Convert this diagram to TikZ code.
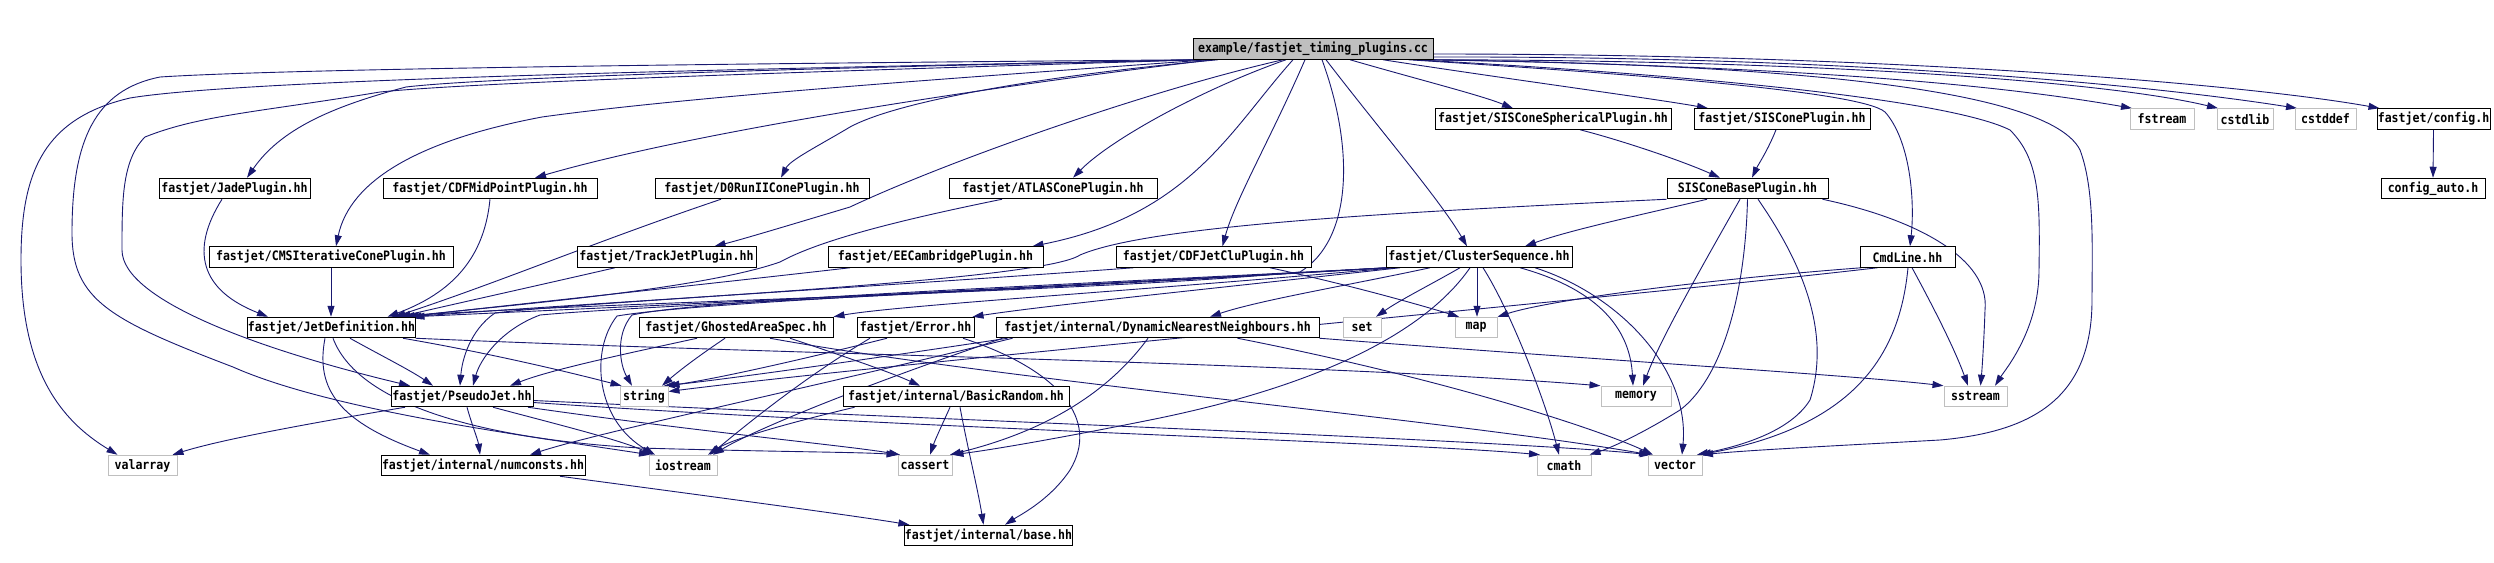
\documentclass[tikz,border=0pt]{standalone}
\usepackage{fontspec}
\newfontfamily\nodefont[FakeStretch=0.89]{DejaVu Sans Mono Bold}
\usetikzlibrary{arrows.meta,calc,backgrounds}
\definecolor{edgec}{RGB}{25,25,112}
\definecolor{graybd}{RGB}{191,191,191}
\tikzset{
  box/.style={draw=black, fill=white, line width=1pt, minimum height=20.5pt, inner sep=0pt, font={\nodefont\fontsize{13pt}{13pt}\selectfont}},
  sysbox/.style={box, draw=graybd},
  topbox/.style={box, fill=graybd},
  dep/.style={draw=edgec, line width=0.9pt, -{Triangle[length=11pt,width=7pt]}},
}
\begin{document}
\begin{tikzpicture}[x=1pt,y=-1pt]
\useasboundingbox (0,0) rectangle (2494,562);
% nodes
\node[topbox, minimum width=240pt] (T) at (1313,49) {example/fastjet\_timing\_plugins.cc};
\node[box, minimum width=236pt] (sphr) at (1553,119) {fastjet/SISConeSphericalPlugin.hh};
\node[box, minimum width=176pt] (sisp) at (1782,119) {fastjet/SISConePlugin.hh};
\node[sysbox, minimum width=64pt] (fstream) at (2162,119) {fstream};
\node[sysbox, minimum width=56pt] (cstdlib) at (2245,119) {cstdlib};
\node[sysbox, minimum width=61pt] (cstddef) at (2325.5,119) {cstddef};
\node[box, minimum width=113pt] (config) at (2433.5,119) {fastjet/config.h};
\node[box, minimum width=151pt] (jade) at (234.5,188.5) {fastjet/JadePlugin.hh};
\node[box, minimum width=214pt] (cdfmid) at (490,188.5) {fastjet/CDFMidPointPlugin.hh};
\node[box, minimum width=214pt] (d0) at (762,188.5) {fastjet/D0RunIIConePlugin.hh};
\node[box, minimum width=208pt] (atlas) at (1053,188.5) {fastjet/ATLASConePlugin.hh};
\node[box, minimum width=161pt] (sisbase) at (1747.5,188.5) {SISConeBasePlugin.hh};
\node[box, minimum width=104pt] (cfgauto) at (2433,188.5) {config\_auto.h};
\node[box, minimum width=244pt] (cms) at (331,257) {fastjet/CMSIterativeConePlugin.hh};
\node[box, minimum width=179pt] (trackjet) at (666.5,257) {fastjet/TrackJetPlugin.hh};
\node[box, minimum width=215pt] (eecam) at (935.5,257) {fastjet/EECambridgePlugin.hh};
\node[box, minimum width=195pt] (cdfjetclu) at (1213.5,257) {fastjet/CDFJetCluPlugin.hh};
\node[box, minimum width=186pt] (cs) at (1479,257) {fastjet/ClusterSequence.hh};
\node[box, minimum width=95pt] (cmdline) at (1907.5,257) {CmdLine.hh};
\node[box, minimum width=165pt] (jetdef) at (331.5,327.5) {fastjet/JetDefinition.hh};
\node[box, minimum width=194pt] (gas) at (736,327.5) {fastjet/GhostedAreaSpec.hh};
\node[box, minimum width=117pt] (error) at (915.5,327.5) {fastjet/Error.hh};
\node[box, minimum width=323pt] (dnn) at (1157.5,327.5) {fastjet/internal/DynamicNearestNeighbours.hh};
\node[sysbox, minimum width=38pt] (nset) at (1362,327.5) {set};
\node[sysbox, minimum width=42pt] (nmap) at (1476,327.5) {map};
\node[box, minimum width=142pt] (pj) at (462,396.5) {fastjet/PseudoJet.hh};
\node[sysbox, minimum width=48pt] (nstring) at (644,396.5) {string};
\node[box, minimum width=226pt] (br) at (956,396.5) {fastjet/internal/BasicRandom.hh};
\node[sysbox, minimum width=70pt] (memory) at (1636,396.5) {memory};
\node[sysbox, minimum width=63pt] (sstream) at (1975.5,396.5) {sstream};
\node[sysbox, minimum width=69pt] (valarray) at (142.5,465.5) {valarray};
\node[box, minimum width=204pt] (numconsts) at (483,465.5) {fastjet/internal/numconsts.hh};
\node[sysbox, minimum width=68pt] (iostream) at (683,465.5) {iostream};
\node[sysbox, minimum width=54pt] (cassert) at (925,465.5) {cassert};
\node[sysbox, minimum width=54pt] (cmath) at (1564,465.5) {cmath};
\node[sysbox, minimum width=54pt] (vector) at (1675,465.5) {vector};
\node[box, minimum width=163pt] (base) at (988.5,535.5) {fastjet/internal/base.hh};
% edges
\begin{scope}[on background layer]
\fill[white] (0,0) rectangle (2494,562);
% from T, leftwards
\draw[dep] ($(T.south)+(-115,0)$) .. controls (800,68) and (250,78) .. (130,98) .. controls (45,118) and (21,170) .. (21,260) .. controls (21,370) and (60,420) .. ($(valarray.north)+(-25,0)$);
\draw[dep] ($(T.south)+(-118,0)$) .. controls (800,63) and (300,68) .. (160,77) .. controls (95,90) and (72,140) .. (72,233) .. controls (72,300) and (110,320) .. (233,367) .. controls (330,410) and (520,435) .. ($(iostream.north)+(-33,0)$);
\draw[dep] ($(T.south)+(-112,0)$) .. controls (800,72) and (480,82) .. (380,92) .. controls (260,112) and (200,115) .. (145,137) .. controls (122,160) and (122,200) .. (122,250) .. controls (122,300) and (260,350) .. ($(pj.north)+(-52,0)$);
\draw[dep] ($(T.south)+(-108,0)$) .. controls (900,66) and (500,76) .. (406,87) .. controls (330,107) and (280,130) .. ($(jade.north)+(12.5,0)$);
\draw[dep] ($(T.south)+(-104,0)$) .. controls (1000,75) and (700,95) .. (542,117) .. controls (420,140) and (350,180) .. ($(cms.north)+(5,0)$);
\draw[dep] ($(T.south)+(-100,0)$) .. controls (1000,85) and (700,130) .. ($(cdfmid.north)+(45,0)$);
\draw[dep] ($(T.south)+(-95,0)$) .. controls (1050,75) and (900,100) .. (850,127) .. controls (820,145) and (790,160) .. ($(d0.north)+(19,0)$);
\draw[dep] ($(T.south)+(-30,0)$) .. controls (1150,90) and (950,160) .. (850,207) .. controls (790,225) and (740,240) .. ($(trackjet.north)+(48,0)$);
\draw[dep] ($(T.south)+(-27,0)$) .. controls (1200,90) and (1110,140) .. ($(atlas.north)+(20,0)$);
\draw[dep] ($(T.south)+(-20,0)$) .. controls (1230,130) and (1190,215) .. ($(eecam.north)+(97,0)$);
\draw[dep] ($(T.south)+(-8,0)$) .. controls (1270,140) and (1235,200) .. ($(cdfjetclu.north)+(9,0)$);
\draw[dep] ($(T.south)+(9,0)$) .. controls (1355,150) and (1352,240) .. (1300,272) .. controls (1100,292) and (600,302) .. ($(jetdef.north)+(60,0)$);
\draw[dep] ($(T.south)+(13,0)$) .. controls (1380,130) and (1440,200) .. ($(cs.north)+(-12,0)$);
\draw[dep] ($(T.south)+(37,0)$) .. controls (1420,80) and (1480,95) .. ($(sphr.north)+(-40,0)$);
\draw[dep] ($(T.south)+(70,0)$) .. controls (1500,78) and (1650,98) .. ($(sisp.north)+(-74,0)$);
% from T, rightwards
\draw[dep] ($(T.south east)+(-25,0)$) .. controls (1600,72) and (1860,90) .. (1885,112) .. controls (1910,140) and (1915,200) .. ($(cmdline.north)+(2.5,0)$);
\draw[dep] ($(T.south east)+(-20,0)$) .. controls (1700,75) and (1950,100) .. (2010,130) .. controls (2040,160) and (2040,200) .. (2039,270) .. controls (2039,330) and (2005,370) .. ($(sstream.north)+(19.5,0)$);
\draw[dep] ($(T.south east)+(-15,0)$) .. controls (1800,64) and (2050,90) .. (2080,150) .. controls (2095,190) and (2092,250) .. (2092,300) .. controls (2092,400) and (2030,432) .. (1940,440) .. controls (1850,445) and (1750,450) .. ($(vector.north)+(27,0)$);
\draw[dep] ($(T.south east)+(-8,0)$) .. controls (1800,66) and (2000,85) .. ($(fstream.north)+(-30,0)$);
\draw[dep] ($(T.south east)+(-3,0)$) .. controls (1800,60) and (2100,80) .. ($(cstdlib.north)+(-27,0)$);
\draw[dep] ($(T.east)+(0,8)$) .. controls (1850,56) and (2150,85) .. ($(cstddef.north)+(-28.5,0)$);
\draw[dep] ($(T.east)+(0,5)$) .. controls (1900,54) and (2250,85) .. ($(config.north)+(-54,0)$);
% row 1 / 2
\draw[dep] ($(sphr.south)+(27,0)$) .. controls (1620,140) and (1680,160) .. ($(sisbase.north)+(-27.5,0)$);
\draw[dep] ($(sisp.south)+(-6,0)$) .. controls (1768,150) and (1758,165) .. ($(sisbase.north)+(4.5,0)$);
\draw[dep] (config.south) -- (cfgauto.north);
% plugins -> JetDefinition
\draw[dep] ($(jade.south)+(-12.5,0)$) .. controls (190,250) and (200,290) .. ($(jetdef.north)+(-63.5,0)$);
\draw[dep] (cms.south) -- (cms.south |- jetdef.north);
\draw[dep] (cdfmid.south) .. controls (485,250) and (460,290) .. ($(jetdef.north)+(56,0)$);
\draw[dep] ($(d0.south)+(-41,0)$) .. controls (600,240) and (500,282) .. ($(jetdef.north)+(63,0)$);
\draw[dep] ($(trackjet.south)+(-51.5,0)$) .. controls (540,285) and (450,305) .. ($(jetdef.north)+(68,0)$);
\draw[dep] ($(atlas.south)+(-51,0)$) .. controls (900,220) and (820,240) .. (780,262) .. controls (700,290) and (500,306) .. ($(jetdef.north)+(72,0)$);
\draw[dep] ($(eecam.south)+(-85.5,0)$) .. controls (700,285) and (500,306) .. ($(jetdef.north)+(76,0)$);
\draw[dep] ($(cdfjetclu.south)+(-80,0)$) .. controls (900,285) and (550,306) .. ($(jetdef.north)+(79,0)$);
\draw[dep] ($(cs.south west)+(4,0)$) .. controls (1000,290) and (600,308) .. ($(jetdef.north)+(82,0)$);
\draw[dep] (sisbase.south west) .. controls (1400,212) and (1150,225) .. (1080,255) .. controls (1040,282) and (600,300) .. (495,313) .. controls (470,330) and (462,360) .. ($(pj.north)+(-2,0)$);
\draw[dep] ($(cdfjetclu.south)+(56.5,0)$) .. controls (1350,285) and (1420,305) .. ($(nmap.north)+(-17,0)$);
% ClusterSequence
\draw[dep] ($(cs.south)+(-19,0)$) .. controls (1430,285) and (1400,300) .. ($(nset.north)+(14,0)$);
\draw[dep] ($(cs.south)+(-2,0)$) -- ($(nmap.north)+(1,0)$);
\draw[dep] ($(cs.south)+(4,0)$) .. controls (1510,310) and (1545,400) .. ($(cmath.north)+(-5,0)$);
\draw[dep] ($(cs.south)+(41,0)$) .. controls (1600,290) and (1630,330) .. ($(memory.north)+(-3,0)$);
\draw[dep] ($(cs.south)+(56,0)$) .. controls (1620,295) and (1690,370) .. ($(vector.north)+(7,0)$);
\draw[dep] ($(cs.south)+(-9,0)$) .. controls (1420,340) and (1300,390) .. (1150,420) .. controls (1050,440) and (990,450) .. (cassert.north east);
\draw[dep] ($(cs.south)+(-49,0)$) .. controls (1350,285) and (1260,300) .. ($(dnn.north)+(52.5,0)$);
\draw[dep] ($(cs.south)+(-79,0)$) .. controls (1200,290) and (1050,305) .. ($(error.north east)+(-2,0)$);
\draw[dep] ($(cs.south)+(-84,0)$) .. controls (1150,290) and (900,305) .. (gas.north east);
\draw[dep] (cs.south west) .. controls (1000,292) and (650,305) .. (540,315) .. controls (500,330) and (480,360) .. ($(pj.north)+(11,0)$);
\draw[dep] ($(cs.south west)+(2,0)$) .. controls (1000,288) and (700,300) .. (632,315) .. controls (615,335) and (620,365) .. ($(nstring.north)+(-12,0)$);
\draw[dep] ($(cs.south west)+(3,0)$) .. controls (1000,290) and (700,302) .. (617,316) .. controls (590,350) and (595,420) .. ($(iostream.north)+(-28,0)$);
% GhostedAreaSpec
\draw[dep] ($(gas.south)+(-39,0)$) .. controls (620,355) and (550,370) .. ($(pj.north)+(48,0)$);
\draw[dep] ($(gas.south)+(-11,0)$) .. controls (700,355) and (680,370) .. ($(nstring.north)+(18,0)$);
\draw[dep] ($(gas.south)+(54,0)$) .. controls (840,355) and (890,372) .. ($(br.north)+(-36,0)$);
\draw[dep] ($(gas.south)+(34,0)$) .. controls (1000,380) and (1450,420) .. ($(vector.north)+(-25,0)$);
% Error
\draw[dep] ($(error.south)+(47.5,0)$) .. controls (1060,370) and (1100,420) .. (1070,470) .. controls (1050,500) and (1020,515) .. ($(base.north)+(16.5,0)$);
\draw[dep] ($(error.south)+(-28.5,0)$) .. controls (800,360) and (720,378) .. (nstring.north east);
\draw[dep] ($(error.south)+(-45.5,0)$) .. controls (800,380) and (740,430) .. ($(iostream.north)+(27,0)$);
% DynamicNearestNeighbours
\draw[dep] ($(dnn.south)+(-9.5,0)$) .. controls (1110,390) and (1050,430) .. ($(cassert.north)+(25,0)$);
\draw[dep] ($(dnn.south)+(-150,0)$) .. controls (850,362) and (720,380) .. ($(nstring.north)+(20,0)$);
\draw[dep] ($(dnn.south)+(-155,0)$) .. controls (850,390) and (750,432) .. ($(iostream.north)+(30,0)$);
\draw[dep] ($(dnn.south)+(-145,0)$) .. controls (800,390) and (600,432) .. ($(numconsts.north)+(47,0)$);
\draw[dep] (dnn.south east) .. controls (1600,360) and (1850,375) .. (sstream.north west);
\draw[dep] ($(dnn.south)+(80,0)$) .. controls (1450,380) and (1600,430) .. ($(vector.north)+(-22,0)$);
% BasicRandom
\draw[dep] ($(br.south)+(-6,0)$) .. controls (942,425) and (935,440) .. ($(cassert.north)+(5,0)$);
\draw[dep] ($(br.south)+(4,0)$) .. controls (968,450) and (978,490) .. ($(base.north)+(-5,0)$);
\draw[dep] ($(br.south west)+(12,0)$) .. controls (780,425) and (730,440) .. ($(iostream.north)+(25,0)$);
% PseudoJet
\draw[dep] ($(pj.south)+(-57,0)$) .. controls (300,425) and (220,440) .. ($(valarray.north east)+(-5,0)$);
\draw[dep] ($(pj.south)+(5,0)$) .. controls (472,425) and (478,440) .. ($(numconsts.north)+(-3,0)$);
\draw[dep] ($(pj.south)+(31,0)$) .. controls (560,425) and (620,440) .. ($(iostream.north)+(-30,0)$);
\draw[dep] ($(pj.south)+(66,0)$) .. controls (700,432) and (850,446) .. ($(cassert.north)+(-25,0)$);
\draw[dep] ($(pj.east)+(0,6)$) .. controls (900,428) and (1400,442) .. ($(cmath.north)+(-24,0)$);
\draw[dep] ($(pj.east)+(0,4)$) .. controls (950,420) and (1500,440) .. ($(vector.north)+(-24,0)$);
% JetDefinition
\draw[dep] ($(jetdef.south)+(-6.5,0)$) .. controls (315,390) and (340,422) .. ($(numconsts.north)+(-53,0)$);
\draw[dep] ($(jetdef.south)+(1.5,0)$) .. controls (360,410) and (500,440) .. (640,448) .. controls (780,452) and (860,452) .. (cassert.north west);
\draw[dep] ($(jetdef.south)+(18.5,0)$) .. controls (380,355) and (410,370) .. ($(pj.north)+(-29,0)$);
\draw[dep] ($(jetdef.south)+(71.5,0)$) .. controls (500,355) and (580,375) .. ($(nstring.north west)+(2,0)$);
\draw[dep] (jetdef.south east) .. controls (800,355) and (1300,362) .. (memory.north west);
% numconsts
\draw[dep] ($(numconsts.south)+(77,0)$) .. controls (700,495) and (850,515) .. ($(base.north west)+(5,0)$);
% SISConeBasePlugin
\draw[dep] ($(sisbase.south)+(-40.5,0)$) .. controls (1640,215) and (1570,230) .. ($(cs.north)+(46,0)$);
\draw[dep] ($(sisbase.south)+(-7.5,0)$) .. controls (1700,270) and (1660,340) .. ($(memory.north)+(7,0)$);
\draw[dep] (sisbase.south) .. controls (1745,300) and (1720,380) .. (1680,410) .. controls (1640,435) and (1610,448) .. ($(cmath.north east)+(-2,0)$);
\draw[dep] ($(sisbase.south)+(10.5,0)$) .. controls (1800,260) and (1832,330) .. (1810,400) .. controls (1790,432) and (1740,446) .. ($(vector.north)+(22,0)$);
\draw[dep] ($(sisbase.south east)+(-6,0)$) .. controls (1920,220) and (1990,260) .. (1985,310) .. controls (1984,340) and (1982,370) .. ($(sstream.north)+(5,0)$);
% CmdLine
\draw[dep] ($(cmdline.south west)+(2,0)$) .. controls (1700,280) and (1550,300) .. (nmap.north east);
\draw[dep] ($(cmdline.south west)+(18,0)$) .. controls (1600,300) and (900,362) .. ($(nstring.east)+(0,-5)$);
\draw[dep] ($(cmdline.south)+(0.5,0)$) .. controls (1900,350) and (1860,425) .. ($(vector.north)+(25,0)$);
\draw[dep] ($(cmdline.south)+(4.5,0)$) .. controls (1935,310) and (1955,350) .. ($(sstream.north)+(-7.5,0)$);
\end{scope}
\end{tikzpicture}
\end{document}
